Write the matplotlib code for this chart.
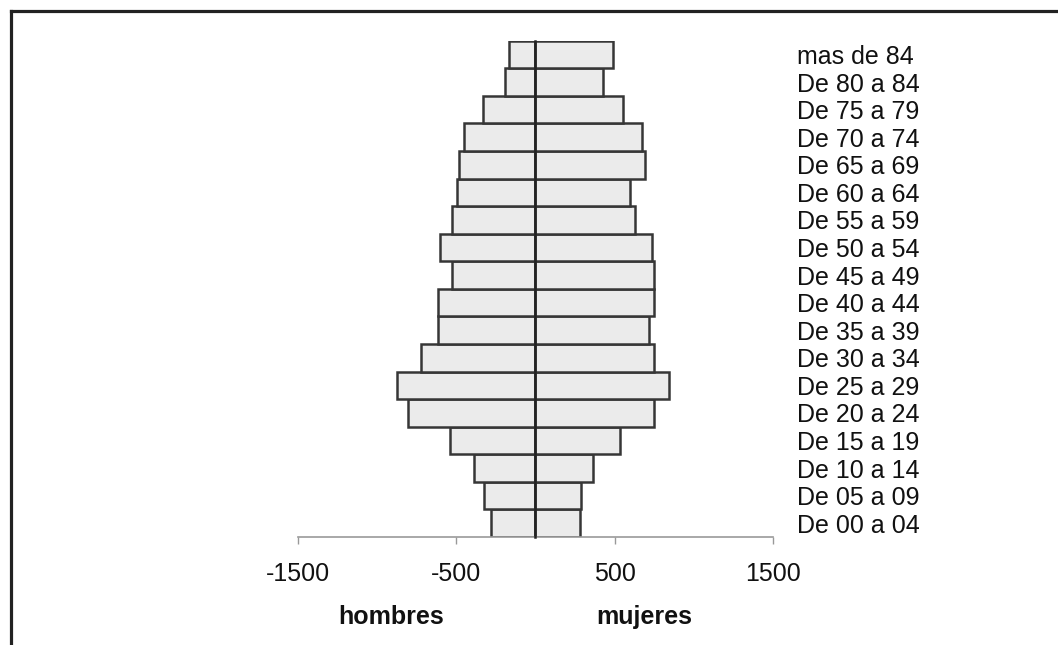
import matplotlib
matplotlib.use("Agg")
import matplotlib.pyplot as plt
from matplotlib.lines import Line2D

grupos = ["De 00 a 04", "De 05 a 09", "De 10 a 14", "De 15 a 19", "De 20 a 24",
          "De 25 a 29", "De 30 a 34", "De 35 a 39", "De 40 a 44", "De 45 a 49",
          "De 50 a 54", "De 55 a 59", "De 60 a 64", "De 65 a 69", "De 70 a 74",
          "De 75 a 79", "De 80 a 84", "mas de 84"]
hombres = [283, 327, 390, 541, 801, 876, 723, 612, 616, 526,
           602, 526, 495, 482, 451, 331, 193, 164]
mujeres = [279, 291, 367, 535, 750, 843, 748, 717, 748, 750,
           734, 627, 598, 690, 671, 552, 428, 491]
xticks = [-1500, -500, 500, 1500]
xticklabels = ["-1500", "-500", "500", "1500"]

plt.rcParams['font.family'] = ['Liberation Sans', 'DejaVu Sans']

W, H = 1058, 645
fig = plt.figure(figsize=(W / 100, H / 100), dpi=100)
fig.patch.set_facecolor("white")

ax_left, ax_right = 297.7, 773.0
ax_top, ax_bot = 40.7, 537.0
ax = fig.add_axes([ax_left / W, (H - ax_bot) / H,
                   (ax_right - ax_left) / W, (ax_bot - ax_top) / H])

y = list(range(len(grupos)))
neg = [-v for v in hombres]
bar_kw = dict(height=1.0, color="#ebebeb", edgecolor="#363636", linewidth=1.8, zorder=2)
ax.barh(y, neg, **bar_kw)
ax.barh(y, mujeres, **bar_kw)

ax.set_xlim(-1500, 1500)
ax.set_ylim(-0.5, len(grupos) - 0.5)

for s in ["top", "right"]:
    ax.spines[s].set_visible(False)
ax.spines["left"].set_position(("data", 0))
ax.spines["left"].set_color("#222222")
ax.spines["left"].set_linewidth(1.8)
ax.spines["left"].set_zorder(3)
ax.spines["bottom"].set_color("#999999")
ax.spines["bottom"].set_linewidth(1.2)

ax.set_xticks(xticks)
ax.set_xticklabels(xticklabels)
ax.tick_params(axis="x", direction="out", length=5, width=1.0, color="#999999",
               labelsize=18, pad=13, labelcolor="#111111")

ax.set_yticks(y)
ax.set_yticklabels(grupos)
ax.tick_params(axis="y", direction="out", length=3, width=0.8, color="#555555",
               left=True, right=False, labelleft=False, labelright=True,
               labelsize=18, pad=14, labelcolor="#111111")

fig.text(391 / W, 1 - 617 / H, "hombres", ha="center", va="center",
         fontsize=18, fontweight="bold", color="#111111")
fig.text(644 / W, 1 - 617 / H, "mujeres", ha="center", va="center",
         fontsize=18, fontweight="bold", color="#111111")

# outer frame (top and left edges visible)
fig.add_artist(Line2D([10.5 / W, 1.0], [1 - 11 / H, 1 - 11 / H],
                      transform=fig.transFigure, color="#222222", linewidth=2.3))
fig.add_artist(Line2D([10.5 / W, 10.5 / W], [1 - 11 / H, 0.0],
                      transform=fig.transFigure, color="#222222", linewidth=2.3))

fig.savefig("out.png", dpi=100, facecolor="white")
